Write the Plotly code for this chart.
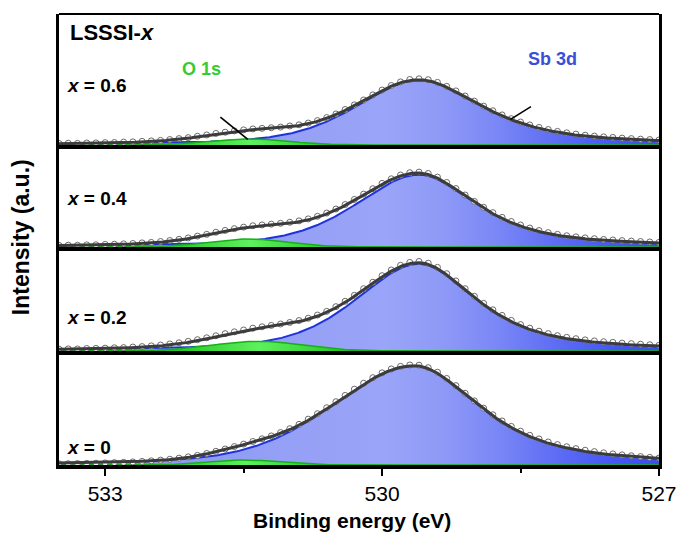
import numpy as np
import plotly.graph_objects as go
from plotly.subplots import make_subplots

# ---------------------------------------------------------------
# Measured XPS spectra (Sb 3d5/2 / O 1s region), 0.1 eV steps
# ---------------------------------------------------------------
energy = np.round(np.arange(533.5, 526.95, -0.1), 1)   # binding energy grid, eV

panel_labels = ["0.6", "0.4", "0.2", "0"]

data_x06 = [.022, .026, .024, .030, .031, .035, .037, .043, .046, .054, .060,
            .068, .080, .094, .108, .128, .147, .170, .188, .207, .222,
            .236, .244, .253, .263, .279, .296, .322, .358, .402, .455,
            .520, .588, .660, .735, .806, .872, .925, .960, .970, .957,
            .918, .860, .793, .718, .643, .570, .502, .441, .386, .337,
            .294, .258, .227, .200, .179, .160, .144, .131, .120, .111,
            .101, .094, .086, .080, .074]

data_x04 = [.021, .024, .023, .028, .029, .034, .036, .041, .046, .054, .060,
            .072, .085, .101, .119, .143, .166, .194, .218, .241, .261,
            .279, .290, .300, .311, .325, .343, .369, .403, .446, .499,
            .558, .625, .695, .766, .836, .896, .946, .976, .984, .966,
            .918, .848, .768, .683, .599, .521, .451, .389, .335, .289,
            .249, .216, .189, .166, .148, .133, .120, .109, .099, .092,
            .084, .078, .072, .066, .060]

data_x02 = [.020, .023, .022, .027, .028, .031, .035, .037, .043, .048, .056,
            .065, .077, .089, .105, .123, .144, .166, .189, .209, .229,
            .249, .264, .279, .294, .311, .332, .357, .392, .432, .483,
            .542, .607, .679, .750, .821, .883, .934, .966, .976, .957,
            .912, .843, .764, .679, .597, .519, .449, .388, .334, .288,
            .249, .216, .190, .167, .149, .134, .121, .110, .101, .094,
            .086, .080, .074, .068, .062]

data_x00 = [.012, .013, .015, .016, .018, .021, .024, .027, .031, .036, .042,
            .049, .058, .069, .082, .097, .116, .138, .161, .186, .211,
            .237, .264, .293, .327, .366, .410, .462, .517, .577, .638,
            .701, .764, .824, .880, .929, .968, .994, 1.008, 1.006, .981,
            .935, .872, .800, .723, .646, .573, .506, .444, .389, .341,
            .299, .263, .232, .206, .184, .165, .149, .135, .123, .112,
            .102, .093, .085, .077, .070]

spectra = [data_x06, data_x04, data_x02, data_x00]

# ---------------------------------------------------------------
# Peak-fit parameters (top panel -> bottom panel)
# Sb 3d: split pseudo-Voigt; O 1s: Gaussian; plus a broad background term
# ---------------------------------------------------------------
sb_center = [529.60, 529.60, 529.60, 529.65]
sb_hwhm_high = [0.80, 0.80, 0.80, 1.05]     # high binding-energy side
sb_hwhm_low = [0.82, 0.74, 0.74, 0.84]      # low binding-energy side
sb_eta_high = [0.45, 0.45, 0.45, 0.30]
sb_eta_low = [0.75, 0.75, 0.75, 0.75]
sb_height = [0.95, 0.95, 0.95, 1.00]

o_center = [531.45, 531.45, 531.35, 531.50]
o_fwhm = [1.00, 1.00, 1.15, 0.90]
o_height = [0.090, 0.105, 0.106, 0.050]

bg_center = [531.3, 531.0, 531.0, 531.0]
bg_fwhm = [2.0, 2.0, 2.0, 2.0]
bg_height = [0.050, 0.085, 0.050, 0.0]

y_top = [1.92, 1.34, 1.134, 1.149]

LN2 = np.log(2.0)


def split_pvoigt(e, c, h_hi, h_lo, eta_hi, eta_lo, amp):
    d = e - c
    hw = np.where(d >= 0, h_hi, h_lo)
    eta = np.where(d >= 0, eta_hi, eta_lo)
    r2 = (d / hw) ** 2
    return amp * (eta / (1 + r2) + (1 - eta) * np.exp(-LN2 * r2))


def gauss(e, c, fwhm, amp):
    return amp * np.exp(-4 * LN2 * ((e - c) / fwhm) ** 2)


e_fit = np.linspace(533.5, 527.0, 651)

# panel domains (bottom, top) in paper units, top panel first
domains = [(0.7095, 1.0), (0.4834, 0.7095), (0.2528, 0.4834), (0.0, 0.2528)]

fig = make_subplots(rows=4, cols=1, shared_xaxes=True, vertical_spacing=0)

blue_scale = [[0.0, "#8a95f3"], [0.23, "#8f9af5"], [0.385, "#95a0f6"],
              [0.538, "#9aa4f8"], [0.63, "#8f9af7"], [0.723, "#7a87f6"],
              [0.815, "#5f6ef4"], [0.908, "#4858f2"], [1.0, "#3a4bf0"]]
green_scale = [[0.0, "#1fc21f"], [0.5, "#5ef05e"], [1.0, "#1fc21f"]]

for i in range(4):
    row = i + 1
    sb = split_pvoigt(e_fit, sb_center[i], sb_hwhm_high[i], sb_hwhm_low[i],
                      sb_eta_high[i], sb_eta_low[i], sb_height[i])
    o1s = gauss(e_fit, o_center[i], o_fwhm[i], o_height[i])
    bg = gauss(e_fit, bg_center[i], bg_fwhm[i], bg_height[i])
    envelope = sb + o1s + bg

    fig.add_trace(go.Scatter(
        x=e_fit, y=sb, mode="lines", fill="tozeroy",
        line=dict(color="#1f33dc", width=2),
        fillgradient=dict(type="horizontal", colorscale=blue_scale,
                          start=533.5, stop=527.0),
        hoverinfo="skip", showlegend=False), row=row, col=1)

    fig.add_trace(go.Scatter(
        x=e_fit, y=o1s, mode="lines", fill="tozeroy",
        line=dict(color="#16b016", width=1.5),
        fillgradient=dict(type="horizontal", colorscale=green_scale,
                          start=o_center[i] + 1.0, stop=o_center[i] - 1.0),
        hoverinfo="skip", showlegend=False), row=row, col=1)

    fig.add_trace(go.Scatter(
        x=energy, y=spectra[i], mode="markers",
        marker=dict(symbol="circle", size=6, color="white",
                    line=dict(color="#6a6a6a", width=1)),
        showlegend=False), row=row, col=1)

    fig.add_trace(go.Scatter(
        x=e_fit, y=envelope, mode="lines",
        line=dict(color="#3c3c3c", width=3),
        hoverinfo="skip", showlegend=False), row=row, col=1)

    xa = "xaxis" if row == 1 else f"xaxis{row}"
    ya = "yaxis" if row == 1 else f"yaxis{row}"
    fig.layout[ya].update(domain=list(domains[i]), range=[0, y_top[i]],
                          showline=True, linewidth=2.5, linecolor="black",
                          mirror=True, ticks="", showticklabels=False,
                          showgrid=False, zeroline=False, fixedrange=True)
    fig.layout[xa].update(range=[533.5, 527.0], showline=True, linewidth=4,
                          linecolor="black", showgrid=False, zeroline=False,
                          ticks="", showticklabels=False)

# bottom energy axis
fig.layout.xaxis4.update(
    ticks="outside", ticklen=7, tickwidth=2, tickcolor="black",
    tickvals=[533, 530, 527], ticktext=["533", "530", "527"],
    showticklabels=True,
    tickfont=dict(family="Arial, Liberation Sans", size=21, color="black"),
    minor=dict(tickvals=[531.5, 528.5], ticks="outside", ticklen=4,
               tickwidth=2, tickcolor="black"))

FONT = "Arial, Liberation Sans"
annotations = [
    dict(text="<b>Binding energy (eV)</b>", x=0.488, y=-0.124,
         font=dict(size=21)),
    dict(text="<b>Intensity (a.u.)</b>", x=-0.063, y=0.5055, textangle=-90,
         font=dict(size=23)),
    dict(text="<b>LSSSI-<i>x</i></b>", x=0.0149, y=0.959, xanchor="left",
         font=dict(size=22)),
    dict(text="<b>O 1s</b>", x=0.237, y=0.877,
         font=dict(size=18, color="#33cc33")),
    dict(text="<b>Sb 3d</b>", x=0.822, y=0.900,
         font=dict(size=18, color="#3a4fd8")),
]
label_y = [0.8404, 0.592, 0.327, 0.0399]
for lbl, yy in zip(panel_labels, label_y):
    annotations.append(dict(text=f"<b><i>x</i> = {lbl}</b>", x=0.0099, y=yy,
                            xanchor="left", font=dict(size=19)))
for a in annotations:
    a.setdefault("xanchor", "center")
    a.update(xref="paper", yref="paper", showarrow=False, yanchor="middle")
    a["font"].setdefault("color", "black")
    a["font"]["family"] = FONT

fig.update_layout(
    width=689, height=536,
    margin=dict(l=59, r=24, t=14, b=71),
    paper_bgcolor="white", plot_bgcolor="white",
    font=dict(family=FONT, color="black"),
    annotations=annotations,
    shapes=[
        dict(type="line", xref="paper", yref="paper", x0=0, x1=1, y0=1, y1=1,
             line=dict(color="black", width=2)),
        dict(type="line", xref="paper", yref="paper", x0=0.269, y0=0.7716,
             x1=0.3147, y1=0.7222, line=dict(color="black", width=1.6)),
        dict(type="line", xref="paper", yref="paper", x0=0.7866, y0=0.7945,
             x1=0.7525, y1=0.7665, line=dict(color="black", width=1.6)),
    ],
)

fig.write_html("out.html")
